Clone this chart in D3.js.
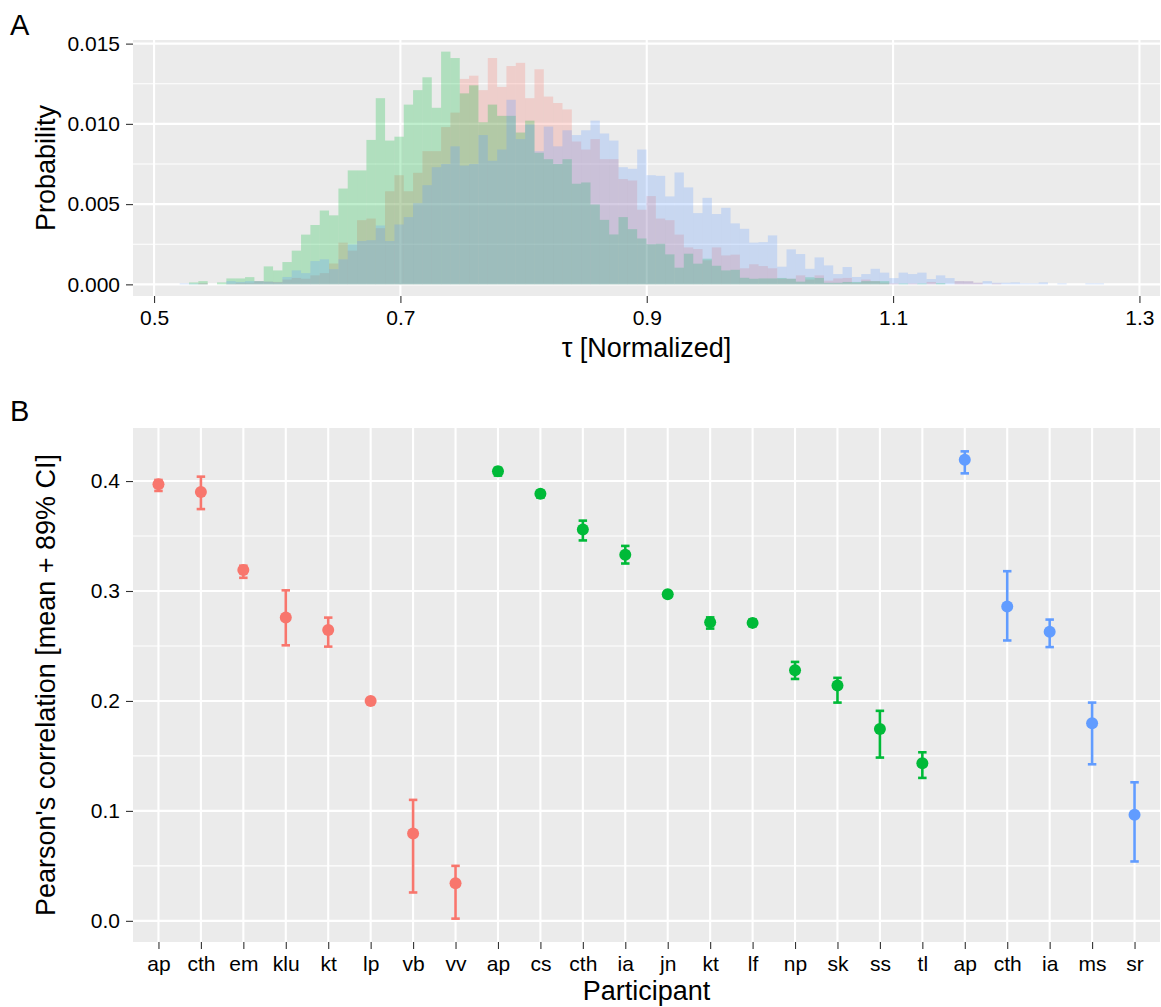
<!DOCTYPE html>
<html>
<head>
<meta charset="utf-8">
<script src="https://d3js.org/d3.v7.min.js"></script>
<style>
  body { margin: 0; background: #fff; }
  svg { display: block; font-family: "Liberation Sans", Arial, Helvetica, sans-serif; }
</style>
</head>
<body>
<svg id="chart"></svg>
<script>
// ---- panel A: histogram of normalized tau, 100 shared bins ----
const tauBinStart = 0.5208;
const tauBinWidth = 0.00758;
const tauTicks = [0.5, 0.7, 0.9, 1.1, 1.3];
const probTicks = [0, 0.005, 0.010, 0.015];
const probMinor = [0.0025, 0.0075, 0.0125];

// probabilities per bin, x 1e-3
const probRed = [0,0,0.08,0,0,0.05,0.1,0.1,0.2,0.17,
  0.15,0.3,0.4,0.35,0.56,0.7,1.3,2.6,2.1,4.0,
  4.1,3.5,5.8,6.8,5.8,6.95,8.3,8.3,9.8,10.7,
  12.8,13.0,12.1,14.1,12.3,13.6,13.8,11.6,13.4,11.7,
  11.3,10.9,8.9,8.4,9.05,7.8,7.8,6.56,6.47,4.65,
  5.5,4.1,4.0,3.1,2.3,2.2,1.5,2.3,1.8,1.85,
  1.0,1.25,1.14,1.0,0.35,0.35,0.56,0.3,0.56,0.23,
  0.37,0.4,0.1,0.3,0.2,0.1,0.06,0,0.06,0,
  0.15,0,0,0.2,0.19,0.1,0,0.06,0,0,
  0,0,0,0,0,0,0,0,0,0];
const probGreen = [0,0.12,0.2,0,0.12,0.37,0.37,0.45,0.2,1.12,
  0.87,1.39,2.1,3.1,3.7,4.6,4.3,5.97,7.1,7.1,
  9.0,11.6,8.96,9.2,11.2,12.1,12.9,11.0,14.5,14.1,
  11.9,12.4,10.1,11.2,10.5,10.5,9.46,10.2,8.2,7.8,
  7.5,7.8,6.27,6.35,4.98,4.02,3.11,4.19,3.44,2.86,
  2.5,2.53,1.87,1.04,1.91,1.29,1.6,1.16,0.87,0.91,
  0.41,0.35,0.37,0.37,0.4,0.35,0.17,0.44,0.4,0.1,
  0.1,0.15,0.15,0.2,0.2,0.2,0,0.06,0,0.06,
  0,0.08,0,0,0,0,0,0,0,0,
  0,0,0,0,0,0,0,0,0,0];
const probBlue = [0.06,0.05,0.05,0,0,0.2,0.15,0.2,0.2,0.17,
  0.13,0.46,0.87,0.7,1.45,1.56,0.95,1.56,2.49,2.7,
  2.75,3.67,2.7,3.73,4.19,5.06,6.18,7.3,7.5,8.6,
  7.4,7.5,9.3,7.7,8.4,11.5,9.05,9.96,8.3,9.83,
  8.6,9.6,9.3,9.6,10.2,9.4,8.96,7.3,7.2,8.4,
  6.8,6.76,5.48,6.97,6.04,4.44,5.39,4.38,4.77,3.8,
  3.46,2.6,2.63,3.05,1.1,2.18,1.89,0.97,1.68,1.18,
  0.64,1.08,0.46,0.64,0.97,0.73,0.39,0.73,0.64,0.73,
  0.33,0.56,0.39,0.2,0.19,0.1,0.2,0.1,0.1,0.12,
  0.06,0.06,0.12,0,0.06,0,0,0.06,0.06,0];

// ---- panel B: correlation per participant ----
const participants = ["ap","cth","em","klu","kt","lp","vb","vv",
  "ap","cs","cth","ia","jn","kt","lf","np","sk","ss","tl",
  "ap","cth","ia","ms","sr"];
const participantGroup = [0,0,0,0,0,0,0,0, 1,1,1,1,1,1,1,1,1,1,1, 2,2,2,2,2];
const corrMean = [0.397,0.390,0.319,0.276,0.2645,0.200,0.0794,0.0342,
  0.409,0.3885,0.356,0.333,0.297,0.2715,0.271,0.228,0.214,0.1745,0.1433,
  0.4194,0.286,0.263,0.1797,0.0964];
const corrLow = [0.391,0.3745,0.312,0.2506,0.2494,0.198,0.0258,0.002,
  0.405,0.385,0.346,0.325,0.295,0.2658,0.268,0.220,0.1985,0.1485,0.130,
  0.407,0.255,0.249,0.1424,0.054];
const corrHigh = [0.401,0.404,0.323,0.3006,0.2758,0.202,0.110,0.050,
  0.412,0.391,0.364,0.341,0.299,0.276,0.274,0.2355,0.221,0.191,0.1533,
  0.427,0.318,0.274,0.1985,0.126];
const corrTicks = [0, 0.1, 0.2, 0.3, 0.4];
const corrMinor = [0.05, 0.15, 0.25, 0.35];

const groupColors = ["#F8766D", "#00BA38", "#619CFF"];

const W = 1161, H = 1007;
const svg = d3.select('#chart').attr('width', W).attr('height', H);

const panelA = { left: 133, right: 1160, top: 40, bottom: 296 };
const panelB = { left: 133, right: 1160, top: 428, bottom: 942 };

function expand(lo, hi) {
  const pad = (hi - lo) * 0.05;
  return [lo - pad, hi + pad];
}

function styleAxis(g) {
  g.select('.domain').remove();
  g.selectAll('.tick line').attr('stroke', '#333').attr('stroke-width', 1.1);
  g.selectAll('.tick text').attr('fill', '#000').style('font-size', '21px');
}

// ================= Panel A =================
const series = [probRed, probGreen, probBlue];
const nBins = probRed.length;
const tauEnd = tauBinStart + nBins * tauBinWidth;

const xA = d3.scaleLinear()
  .domain(expand(tauBinStart, tauEnd))
  .range([panelA.left, panelA.right]);
const yMaxA = d3.max(series, s => d3.max(s)) / 1000;
const yA = d3.scaleLinear()
  .domain(expand(0, yMaxA))
  .range([panelA.bottom, panelA.top]);

const gA = svg.append('g');
gA.append('rect')
  .attr('x', panelA.left).attr('y', panelA.top)
  .attr('width', panelA.right - panelA.left)
  .attr('height', panelA.bottom - panelA.top)
  .attr('fill', '#EBEBEB');

gA.selectAll('line.minor')
  .data(probMinor)
  .join('line')
  .attr('x1', panelA.left).attr('x2', panelA.right)
  .attr('y1', d => yA(d)).attr('y2', d => yA(d))
  .attr('stroke', '#fff').attr('stroke-width', 1.1);
gA.selectAll('line.majorY')
  .data(probTicks)
  .join('line')
  .attr('x1', panelA.left).attr('x2', panelA.right)
  .attr('y1', d => yA(d)).attr('y2', d => yA(d))
  .attr('stroke', '#fff').attr('stroke-width', 2.1);
gA.selectAll('line.majorX')
  .data(tauTicks)
  .join('line')
  .attr('y1', panelA.top).attr('y2', panelA.bottom)
  .attr('x1', d => xA(d)).attr('x2', d => xA(d))
  .attr('stroke', '#fff').attr('stroke-width', 2.1);

// bars: red first, then green, then blue on top
series.forEach((s, gi) => {
  const bins = s.map((v, k) => ({ k, p: v / 1000 })).filter(d => d.p > 0);
  gA.append('g')
    .selectAll('rect')
    .data(bins)
    .join('rect')
    .attr('x', d => xA(tauBinStart + d.k * tauBinWidth))
    .attr('width', d => xA(tauBinStart + (d.k + 1) * tauBinWidth) - xA(tauBinStart + d.k * tauBinWidth))
    .attr('y', d => yA(d.p))
    .attr('height', d => yA(0) - yA(d.p))
    .attr('fill', groupColors[gi])
    .attr('fill-opacity', 0.25);
});

gA.append('g')
  .attr('transform', `translate(${panelA.left},0)`)
  .call(d3.axisLeft(yA).tickValues(probTicks).tickFormat(d3.format('.3f')).tickSize(7).tickPadding(6))
  .call(styleAxis);
gA.append('g')
  .attr('transform', `translate(0,${panelA.bottom})`)
  .call(d3.axisBottom(xA).tickValues(tauTicks).tickFormat(d3.format('.1f')).tickSize(7).tickPadding(7))
  .call(styleAxis);

gA.append('text')
  .attr('x', (panelA.left + panelA.right) / 2).attr('y', 357)
  .attr('text-anchor', 'middle').style('font-size', '27px')
  .text('τ [Normalized]');
gA.append('text')
  .attr('transform', `translate(55,${(panelA.top + panelA.bottom) / 2}) rotate(-90)`)
  .attr('text-anchor', 'middle').style('font-size', '27px')
  .text('Probability');
svg.append('text').attr('x', 10).attr('y', 35).style('font-size', '29px').text('A');

// ================= Panel B =================
const keys = participants.map((p, i) => i);
const xB = d3.scalePoint()
  .domain(keys)
  .range([panelB.left, panelB.right])
  .padding(0.6);
const yB = d3.scaleLinear()
  .domain(expand(d3.min(corrLow), d3.max(corrHigh)))
  .range([panelB.bottom, panelB.top]);

const gB = svg.append('g');
gB.append('rect')
  .attr('x', panelB.left).attr('y', panelB.top)
  .attr('width', panelB.right - panelB.left)
  .attr('height', panelB.bottom - panelB.top)
  .attr('fill', '#EBEBEB');

gB.selectAll('line.minor')
  .data(corrMinor)
  .join('line')
  .attr('x1', panelB.left).attr('x2', panelB.right)
  .attr('y1', d => yB(d)).attr('y2', d => yB(d))
  .attr('stroke', '#fff').attr('stroke-width', 1.1);
gB.selectAll('line.majorY')
  .data(corrTicks)
  .join('line')
  .attr('x1', panelB.left).attr('x2', panelB.right)
  .attr('y1', d => yB(d)).attr('y2', d => yB(d))
  .attr('stroke', '#fff').attr('stroke-width', 2.1);
gB.selectAll('line.majorX')
  .data(keys)
  .join('line')
  .attr('y1', panelB.top).attr('y2', panelB.bottom)
  .attr('x1', d => xB(d)).attr('x2', d => xB(d))
  .attr('stroke', '#fff').attr('stroke-width', 2.1);

const capHalf = xB.step() * 0.1;
const pts = gB.append('g')
  .selectAll('g')
  .data(keys)
  .join('g')
  .attr('stroke', i => groupColors[participantGroup[i]])
  .attr('fill', i => groupColors[participantGroup[i]]);

pts.append('line')
  .attr('x1', i => xB(i)).attr('x2', i => xB(i))
  .attr('y1', i => yB(corrLow[i])).attr('y2', i => yB(corrHigh[i]))
  .attr('stroke-width', 2.6);
pts.append('line')
  .attr('x1', i => xB(i) - capHalf).attr('x2', i => xB(i) + capHalf)
  .attr('y1', i => yB(corrLow[i])).attr('y2', i => yB(corrLow[i]))
  .attr('stroke-width', 2.6);
pts.append('line')
  .attr('x1', i => xB(i) - capHalf).attr('x2', i => xB(i) + capHalf)
  .attr('y1', i => yB(corrHigh[i])).attr('y2', i => yB(corrHigh[i]))
  .attr('stroke-width', 2.6);
pts.append('circle')
  .attr('cx', i => xB(i)).attr('cy', i => yB(corrMean[i]))
  .attr('r', 6)
  .attr('stroke', 'none');

gB.append('g')
  .attr('transform', `translate(${panelB.left},0)`)
  .call(d3.axisLeft(yB).tickValues(corrTicks).tickFormat(d3.format('.1f')).tickSize(7).tickPadding(6))
  .call(styleAxis);
gB.append('g')
  .attr('transform', `translate(0,${panelB.bottom})`)
  .call(d3.axisBottom(xB).tickFormat(i => participants[i]).tickSize(7).tickPadding(7))
  .call(styleAxis);

gB.append('text')
  .attr('x', (panelB.left + panelB.right) / 2).attr('y', 1000)
  .attr('text-anchor', 'middle').style('font-size', '27px')
  .text('Participant');
gB.append('text')
  .attr('transform', `translate(55,${(panelB.top + panelB.bottom) / 2}) rotate(-90)`)
  .attr('text-anchor', 'middle').style('font-size', '27px')
  .text("Pearson's correlation [mean + 89% CI]");
svg.append('text').attr('x', 10).attr('y', 421).style('font-size', '29px').text('B');
</script>
</body>
</html>
